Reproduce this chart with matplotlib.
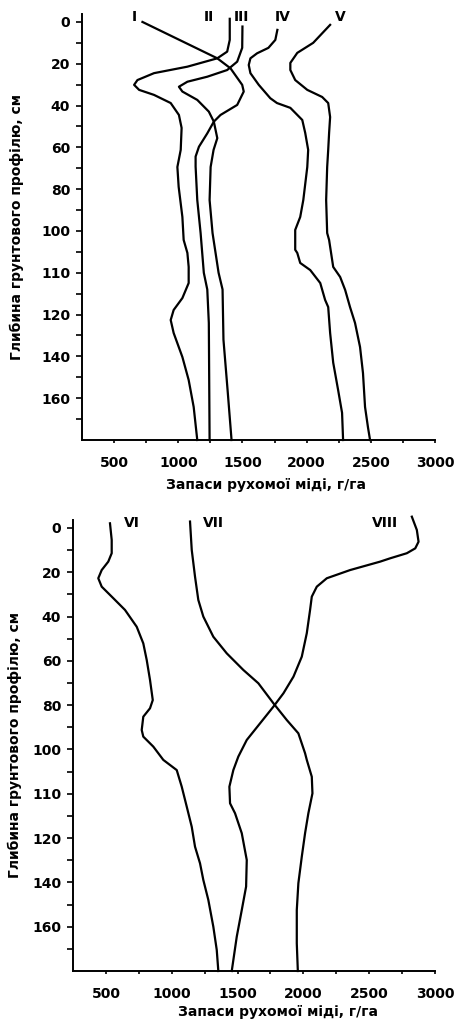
import matplotlib
matplotlib.use('Agg')
import matplotlib.pyplot as plt

plt.rcParams['font.family'] = 'DejaVu Sans'
plt.rcParams['font.weight'] = 'bold'
plt.rcParams['font.size'] = 10

# depth axis is drawn as equally spaced tick slots; labels are not linear
ytick_labels = ['0', '20', '40', '60', '80', '100', '110', '120', '140', '160']
xticks_major = [500, 1000, 1500, 2000, 2500, 3000]
xlabel = 'Запаси рухомої міді, г/га'
ylabel = 'Глибина грунтового профілю, см'

# ---- upper panel (I - V): slot position on depth axis, copper stock g/ha
I_pos = [0, 1.74, 2.22, 3.01, 3.33, 3.97, 4.45, 4.77, 5.33, 5.97, 6.44, 6.92,
         8.52, 10.1, 12.0, 12.8, 14.4, 20]
I_val = [721, 1304, 1407, 1498, 1510, 1459, 1329, 1277, 1226, 1161, 1135, 1135,
         1148, 1174, 1199, 1226, 1238, 1244]

II_pos = [-0.15, 0.86, 1.42, 1.74, 2.14, 2.45, 2.78, 3.01, 3.25, 3.49, 3.88, 4.45,
          5.07, 6.12, 6.94, 7.89, 9.33, 10.43, 11.05, 11.72, 12.49, 13.21, 13.78,
          14.26, 14.88, 16.03, 17.13, 18.42, 20]
II_val = [1401, 1401, 1381, 1304, 1071, 811, 682, 656, 695, 811, 941, 1005,
          1026, 1019, 993, 1003, 1032, 1042, 1071, 1081, 1081, 1032, 964,
          941, 964, 1032, 1081, 1120, 1148]

III_pos = [0.22, 1.24, 1.90, 2.30, 2.62, 2.86, 3.10, 3.33, 3.73, 4.29, 4.77, 5.56,
           6.12, 6.94, 8.52, 10.1, 12.0, 12.8, 15.2, 17.6, 20]
III_val = [1500, 1498, 1459, 1381, 1226, 1071, 1005, 1032, 1148, 1238, 1277, 1304,
           1275, 1252, 1244, 1267, 1314, 1345, 1352, 1384, 1415]

IV_pos = [0.38, 0.86, 1.24, 1.50, 1.74, 2.06, 2.45, 3.01, 3.65, 3.88, 4.11, 4.69,
          5.31, 6.12, 6.94, 8.52, 9.33, 9.95, 10.9, 11.05, 11.53, 11.87, 12.49,
          13.3, 13.64, 14.88, 16.3, 17.6, 18.7, 20]
IV_val = [1772, 1756, 1702, 1614, 1562, 1549, 1562, 1627, 1717, 1769, 1873, 1966,
          1989, 2012, 2005, 1974, 1950, 1911, 1911, 1927, 1950, 2028, 2106,
          2144, 2168, 2183, 2207, 2245, 2276, 2284]

V_pos = [0.14, 1.0, 1.48, 1.96, 2.30, 2.78, 3.25, 3.59, 3.88, 4.55, 5.31, 6.12,
         6.94, 8.52, 10.1, 10.43, 11.72, 12.2, 12.82, 13.64, 14.4, 15.55, 16.8,
         18.42, 19.4, 20]
V_val = [2183, 2051, 1927, 1873, 1873, 1911, 2005, 2121, 2168, 2183, 2175, 2168,
         2160, 2152, 2160, 2175, 2207, 2261, 2300, 2338, 2377, 2416, 2439,
         2455, 2478, 2494]

# ---- lower panel (VI - VIII)
VI_pos = [-0.21, 0.54, 1.14, 1.52, 1.90, 2.27, 2.65, 3.17, 3.70, 4.46, 5.21, 5.96,
          6.86, 7.77, 8.14, 8.52, 9.12, 9.42, 9.87, 10.47, 10.93, 11.68, 12.58,
          13.49, 14.39, 15.14, 15.89, 16.79, 18.0, 19.05, 20]
VI_val = [531, 544, 544, 518, 468, 442, 468, 556, 645, 734, 784, 810,
          835, 856, 835, 784, 772, 784, 860, 936, 1038, 1076, 1114,
          1152, 1177, 1215, 1240, 1278, 1316, 1342, 1354]

VII_pos = [-0.29, 0.99, 2.20, 3.25, 4.0, 4.91, 5.66, 6.41, 7.01, 7.91, 8.67, 9.27,
           10.17, 10.47, 11.23, 11.98, 12.88, 13.78, 14.84, 16.04, 17.25, 18.75, 20]
VII_val = [1139, 1152, 1177, 1202, 1240, 1316, 1418, 1544, 1658, 1772, 1874, 1962,
           2013, 2026, 2064, 2069, 2038, 2013, 1988, 1962, 1950, 1950, 1958]

VIII_pos = [-0.51, 0.09, 0.62, 0.92, 1.14, 1.37, 1.52, 1.90, 2.27, 2.65, 3.10, 3.70,
            4.75, 5.81, 6.71, 7.46, 8.07, 8.82, 9.57, 10.32, 10.93, 11.68, 12.43,
            12.88, 13.78, 14.99, 16.19, 17.25, 18.45, 20]
VIII_val = [2824, 2862, 2875, 2850, 2786, 2659, 2583, 2355, 2178, 2102, 2064, 2051,
            2026, 1988, 1925, 1849, 1772, 1671, 1570, 1506, 1468, 1438, 1443,
            1481, 1532, 1570, 1565, 1532, 1494, 1456]

top_series = [('I', I_val, I_pos), ('II', II_val, II_pos), ('III', III_val, III_pos),
              ('IV', IV_val, IV_pos), ('V', V_val, V_pos)]
top_names = {'I': 654, 'II': 1235, 'III': 1491, 'IV': 1817, 'V': 2260}
bottom_series = [('VI', VI_val, VI_pos), ('VII', VII_val, VII_pos),
                 ('VIII', VIII_val, VIII_pos)]
bottom_names = {'VI': 696, 'VII': 1316, 'VIII': 2621}

fig = plt.figure(figsize=(4.6, 10.26), dpi=100)
ax1 = fig.add_axes([82/460, 1 - 440/1026, 353/460, 426/1026])
ax2 = fig.add_axes([73/460, 1 - 971/1026, 362/460, 451/1026])


def style(ax, series, names, ytop, xlab_xy, ylab_x):
    for name, val, pos in series:
        ax.plot(val, pos, color='black', lw=1.6, clip_on=False,
                solid_joinstyle='round')
    for name, x in names.items():
        ax.text(x, -0.22, name, ha='center', va='center', fontsize=10,
                fontweight='bold')
    ax.set_xlim(250, 3000)
    ax.set_ylim(20, ytop)
    ax.spines['top'].set_visible(False)
    ax.spines['right'].set_visible(False)
    for s in ('left', 'bottom'):
        ax.spines[s].set_linewidth(1.4)
    ax.set_yticks(range(0, 20, 2))
    ax.set_yticklabels(ytick_labels)
    ax.set_yticks(range(1, 21, 2), minor=True)
    ax.set_xticks(xticks_major)
    ax.set_xticks(range(750, 3000, 500), minor=True)
    ax.tick_params(axis='y', which='both', direction='out', length=4.5, width=1.2, pad=4)
    ax.tick_params(axis='x', which='both', direction='out', length=2.5, width=1.2, pad=9)
    ax.set_xlabel(xlabel, va='center', fontsize=10, fontweight='bold')
    ax.xaxis.set_label_coords(*xlab_xy)
    ax.set_ylabel(ylabel, va='center', fontsize=10, fontweight='bold')
    ax.yaxis.set_label_coords(ylab_x, 0.5)


style(ax1, top_series, top_names, -0.38, (0.521, -0.106), -0.184)
style(ax2, bottom_series, bottom_names, -0.36, (0.566, -0.091), -0.160)

fig.savefig('out.png', dpi=100)
